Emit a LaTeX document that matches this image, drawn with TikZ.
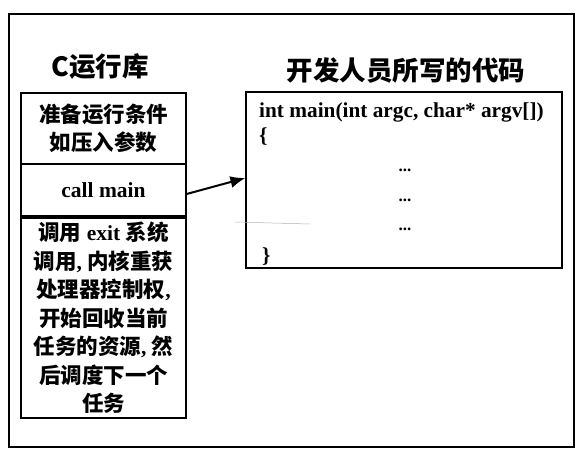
\documentclass[tikz,border=0pt]{standalone}
\usepackage{fontspec}
\setmainfont{Liberation Serif}
\newfontfamily\cjk{Noto Sans CJK SC}
\usetikzlibrary{arrows.meta}
\begin{document}
\begin{tikzpicture}[x=1pt,y=-1pt,
  frame/.style={draw, line width=1.8pt},
  cbox/.style={draw, line width=1.2pt, inner sep=0pt, align=center, font=\bfseries\fontsize{21.5}{28.5}\selectfont},
  title/.style={font=\cjk\bfseries\fontsize{26.5}{30}\selectfont},
  codeline/.style={anchor=west, inner sep=0pt, font=\bfseries\fontsize{21.3}{22}\selectfont},
  dots/.style={inner sep=0pt, font=\bfseries\fontsize{17}{18}\selectfont}]
\useasboundingbox (0,0) rectangle (578,461);
\node[frame, minimum width=565pt, minimum height=433pt, inner sep=0pt] (outer) at (291.5,230.5) {};
\node[title] (t1) at (100,67) {C运行库};
\node[title] (t2) at (406,70) {开发人员所写的代码};
\node[cbox, minimum width=165pt, minimum height=71pt] (prep) at (103.5,128.5)
  {{\cjk 准备运行条件}\\{\cjk 如压入参数}};
\node[cbox, minimum width=165pt, minimum height=52pt] (callbox) at (103.5,190) {call main};
\node[cbox, minimum width=165pt, minimum height=200pt] (exitbox) at (103.5,318)
  {{\cjk 调用} exit {\cjk 系统}\\{\cjk 调用}, {\cjk 内核重获}\\{\cjk 处理器控制权},\\{\cjk 开始回收当前}\\{\cjk 任务的资源}, {\cjk 然}\\{\cjk 后调度下一个}\\{\cjk 任务}};
\node[draw, line width=1.2pt, minimum width=316pt, minimum height=176pt, inner sep=0pt] (code) at (404,180) {};
\node[codeline] (l1) at (259,112) {int main(int argc, char* argv[])};
\node[codeline] (l2) at (259,137) {\{};
\node[dots] (d1) at (405,170) {...};
\node[dots] (d2) at (405,200) {...};
\node[dots] (d3) at (405,229) {...};
\node[codeline] (l3) at (262,257) {\}};
\draw[line width=2pt, -{Latex[length=15pt,width=12pt]}] ([yshift=-4pt]callbox.east) -- ([yshift=2pt]code.west);
\coordinate (s1) at (235,222);
\coordinate (s2) at (310,224);
\draw[gray!60, line width=0.5pt] (s1) -- (s2);
\end{tikzpicture}
\end{document}
